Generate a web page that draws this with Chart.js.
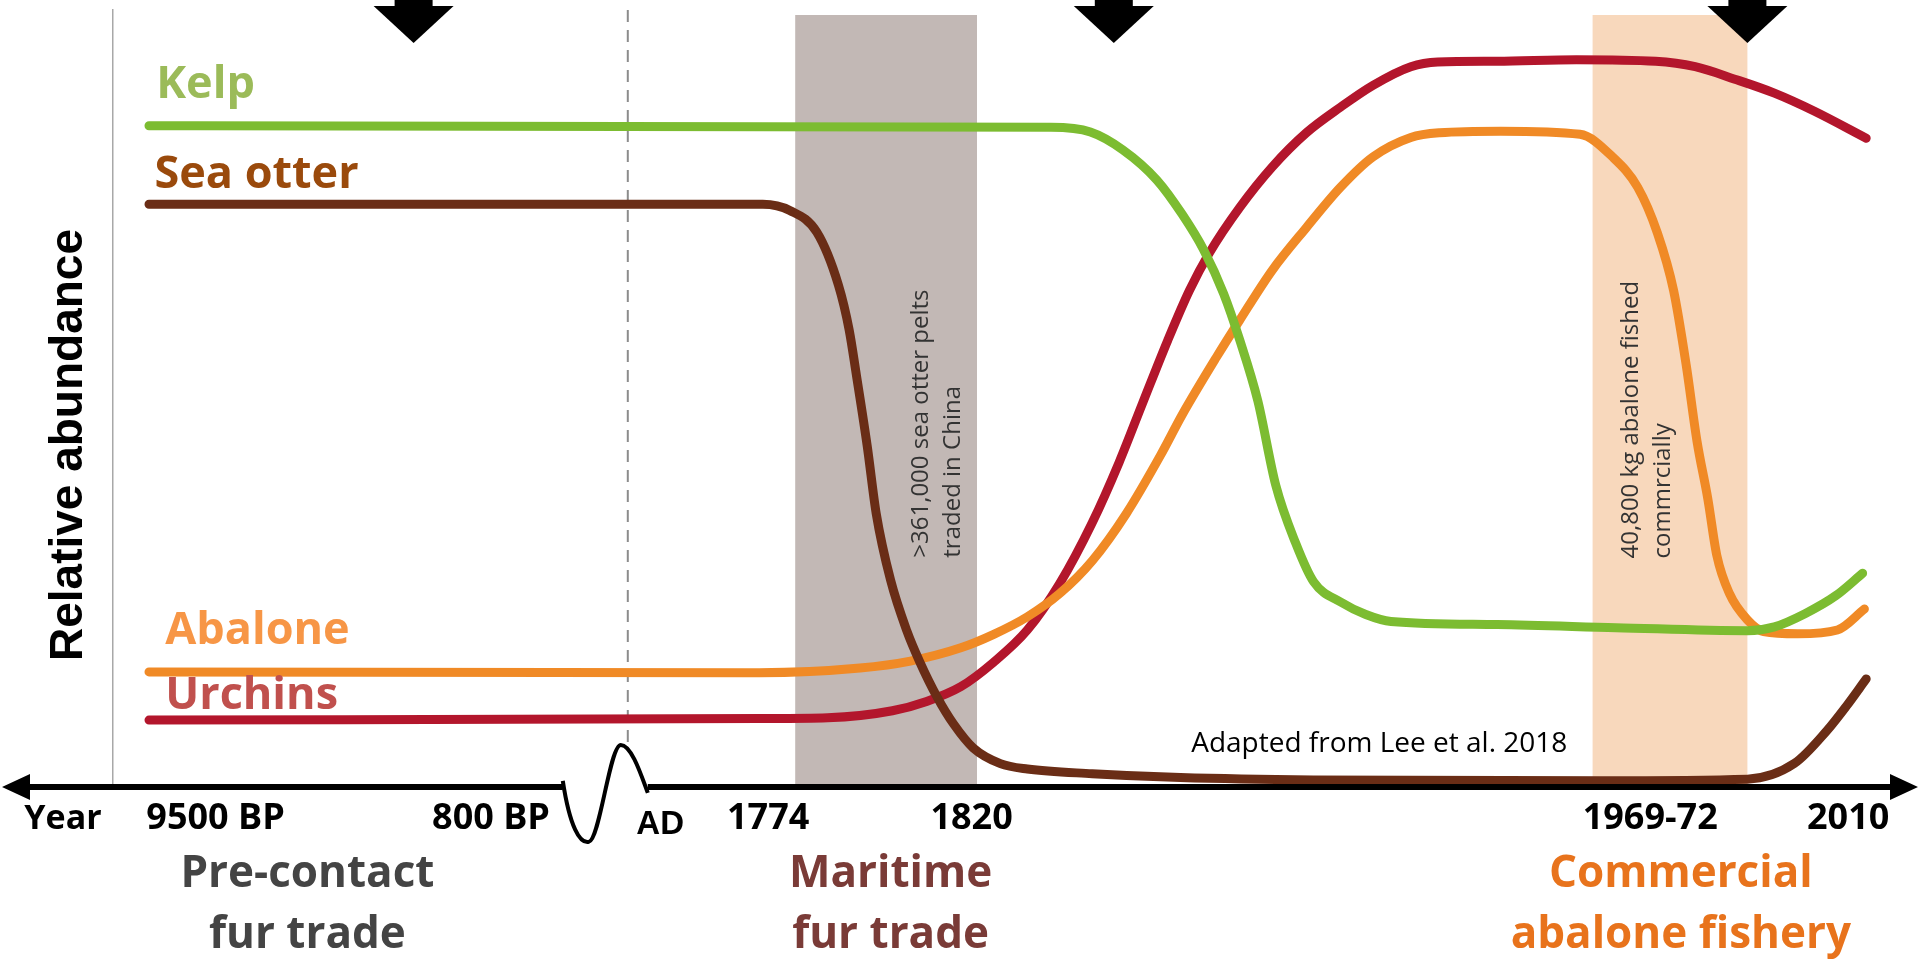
<!DOCTYPE html>
<html>
<head>
<meta charset="utf-8">
<title>Kelp forest timeline</title>
<script src="https://cdn.jsdelivr.net/npm/chart.js@4.4.1/dist/chart.umd.min.js"></script>
<style>
  html, body { margin: 0; padding: 0; background: #fff; }
</style>
</head>
<body>
<canvas id="myChart" width="1920" height="961"></canvas>
<script>
// timeline position runs 0..100 along the axis, relative abundance 0..100
var tickPos = [5.7, 21.0, 30.4, 36.4, 47.7, 85.4, 96.4];
var tickLabels = ["9500 BP", "800 BP", "AD", "1774", "1820", "1969-72", "2010"];

var kelpX = [2.0, 52.1, 54.3, 56.1, 58.0, 59.4, 60.6, 61.7, 62.6, 63.6, 64.6, 65.7, 66.7, 68.2, 69.6, 71.0, 76.9, 83.5, 90.8, 92.3, 94.0, 95.7, 97.2];
var kelpY = [85.1, 84.9, 84.3, 82.0, 78.1, 73.7, 69.1, 63.5, 57.5, 49.7, 38.8, 31.4, 26.4, 23.8, 22.2, 21.3, 20.9, 20.5, 20.1, 20.6, 22.3, 24.6, 27.5];

var otterX = [2.0, 36.1, 37.6, 39.1, 40.3, 40.9, 41.3, 41.9, 42.4, 43.2, 44.1, 44.8, 45.8, 46.7, 47.8, 49.3, 50.8, 54.4, 59.3, 66.7, 82.6, 90.8, 93.4, 95.2, 96.3, 97.4];
var otterY = [75.0, 75.0, 74.2, 71.4, 64.6, 58.8, 53.0, 43.9, 35.2, 26.6, 20.1, 16.2, 11.5, 8.1, 5.0, 3.0, 2.3, 1.7, 1.2, 0.9, 0.8, 1.0, 3.0, 7.2, 10.4, 13.9];

var abaloneX = [2.0, 35.9, 41.5, 44.3, 47.1, 48.9, 50.8, 52.6, 54.4, 56.3, 58.2, 59.4, 61.3, 62.6, 64.4, 66.3, 68.2, 70.0, 72.1, 73.7, 77.1, 81.5, 83.3, 84.7, 85.8, 86.7, 87.4, 88.0, 88.6, 89.1, 89.8, 90.8, 91.7, 93.6, 95.8, 97.3];
var abaloneY = [14.8, 14.7, 15.3, 16.2, 17.9, 19.6, 21.9, 24.9, 29.1, 35.2, 42.7, 47.9, 55.3, 60.1, 66.5, 72.0, 77.2, 81.1, 83.6, 84.2, 84.4, 84.0, 81.1, 77.2, 71.3, 63.9, 54.3, 44.5, 37.1, 29.8, 24.9, 21.5, 20.0, 19.7, 20.2, 22.9];

var urchinX = [2.0, 35.9, 39.7, 43.3, 45.2, 47.1, 48.9, 50.8, 52.6, 54.4, 55.9, 57.2, 58.6, 59.8, 60.9, 62.6, 64.4, 66.3, 68.2, 70.0, 72.1, 73.6, 76.9, 81.3, 85.7, 87.9, 90.1, 92.3, 94.5, 97.4];
var urchinY = [8.6, 8.8, 8.9, 9.8, 11.0, 12.9, 16.0, 20.2, 26.2, 34.0, 41.8, 49.4, 57.5, 63.9, 68.7, 74.6, 79.8, 84.2, 87.5, 90.3, 92.7, 93.3, 93.4, 93.6, 93.4, 92.7, 91.1, 89.3, 87.0, 83.5];

var bandStart = [37.9, 82.2];
var bandEnd = [48.0, 90.8];
var bandNotes = [[">361,000 sea otter pelts", "traded in China"], ["40,800 kg abalone fished", "commrcially"]];
var periods = [["Pre-contact", "fur trade"], ["Maritime", "fur trade"], ["Commercial", "abalone fishery"]];
var periodCenter = [10.8, 43.2, 87.1];
var arrowAt = [16.7, 55.6, 90.8];
var breakAt = 28.6;

function pts(xs, ys) {
  return xs.map(function (v, i) { return {x: v, y: ys[i]}; });
}

var bandColors = ["#c2b8b5", "#f8d8bc"];
var noteAnchor = [[45.3, 29.5], [84.7, 29.4]];
var seriesText = [
  {text: "Kelp", color: "#9bbb59", x: 2.4, y: 88.7},
  {text: "Sea otter", color: "#9a4a0c", x: 2.3, y: 77.1},
  {text: "Abalone", color: "#f79646", x: 2.9, y: 18.4},
  {text: "Urchins", color: "#c0504d", x: 2.9, y: 10.0}
];
var periodColors = ["#444444", "#7a3b37", "#e8731c"];

var timeline = {
  id: "timeline",
  beforeDatasetsDraw: function (chart) {
    var ctx = chart.ctx, a = chart.chartArea, sx = chart.scales.x, sy = chart.scales.y;
    ctx.save();
    // shaded periods
    for (var i = 0; i < bandStart.length; i++) {
      var l = sx.getPixelForValue(bandStart[i]), r = sx.getPixelForValue(bandEnd[i]);
      ctx.fillStyle = bandColors[i];
      ctx.fillRect(l, a.top + 5, r - l, a.bottom - a.top - 5);
    }
    // dashed break line
    var bp = sx.getPixelForValue(breakAt);
    ctx.strokeStyle = "#8c8c8c";
    ctx.lineWidth = 2;
    ctx.setLineDash([12, 8]);
    ctx.beginPath();
    ctx.moveTo(bp, a.top);
    ctx.lineTo(bp, a.bottom - 42);
    ctx.stroke();
    ctx.setLineDash([]);
    // rotated notes in the bands
    ctx.fillStyle = "#333";
    ctx.font = "24px 'Open Sans'";
    ctx.textAlign = "left";
    ctx.textBaseline = "alphabetic";
    for (var j = 0; j < bandNotes.length; j++) {
      ctx.save();
      ctx.translate(sx.getPixelForValue(noteAnchor[j][0]), sy.getPixelForValue(noteAnchor[j][1]));
      ctx.rotate(-Math.PI / 2);
      bandNotes[j].forEach(function (line, k) { ctx.fillText(line, 0, k * 32); });
      ctx.restore();
    }
    ctx.restore();
  },
  afterDatasetsDraw: function (chart) {
    var ctx = chart.ctx, sx = chart.scales.x, sy = chart.scales.y;
    var W = chart.width;
    var ay = sy.getPixelForValue(0);
    var bp = sx.getPixelForValue(breakAt);
    ctx.save();
    // time axis with arrow heads and break
    ctx.strokeStyle = "#000";
    ctx.fillStyle = "#000";
    ctx.lineWidth = 6;
    ctx.beginPath();
    ctx.moveTo(24, ay); ctx.lineTo(bp - 65, ay);
    ctx.moveTo(bp + 20, ay); ctx.lineTo(W - 26, ay);
    ctx.stroke();
    ctx.beginPath();
    ctx.moveTo(2, ay); ctx.lineTo(30, ay - 13); ctx.lineTo(30, ay + 13); ctx.closePath();
    ctx.moveTo(W - 2, ay); ctx.lineTo(W - 30, ay - 13); ctx.lineTo(W - 30, ay + 13); ctx.closePath();
    ctx.fill();
    ctx.lineWidth = 4;
    ctx.beginPath();
    ctx.moveTo(bp - 65, ay - 6);
    ctx.bezierCurveTo(bp - 58, ay + 40, bp - 48, ay + 57, bp - 39, ay + 55);
    ctx.bezierCurveTo(bp - 28, ay + 53, bp - 18, ay - 42, bp - 7, ay - 42);
    ctx.bezierCurveTo(bp + 4, ay - 42, bp + 14, ay - 10, bp + 20, ay + 6);
    ctx.stroke();
    // down arrows at the top
    arrowAt.forEach(function (v) {
      var cx = sx.getPixelForValue(v);
      ctx.fillRect(cx - 19, 0, 38, 8);
      ctx.beginPath();
      ctx.moveTo(cx - 40, 6); ctx.lineTo(cx + 40, 6); ctx.lineTo(cx, 43); ctx.closePath();
      ctx.fill();
    });
    // series names
    ctx.font = "bold 45px 'Open Sans'";
    ctx.textAlign = "left";
    ctx.textBaseline = "alphabetic";
    seriesText.forEach(function (s) {
      ctx.fillStyle = s.color;
      ctx.fillText(s.text, sx.getPixelForValue(s.x), sy.getPixelForValue(s.y));
    });
    // y title
    ctx.save();
    ctx.translate(82, 445);
    ctx.rotate(-Math.PI / 2);
    ctx.fillStyle = "#000";
    ctx.font = "bold 46px 'Liberation Sans'";
    ctx.textAlign = "center";
    ctx.fillText("Relative abundance", 0, 0);
    ctx.restore();
    // axis name
    ctx.fillStyle = "#000";
    ctx.font = "bold 34px 'Open Sans'";
    ctx.textAlign = "center";
    ctx.fillText("Year", 63, 829);
    // period names
    ctx.font = "bold 44px 'Open Sans'";
    periods.forEach(function (p, i) {
      ctx.fillStyle = periodColors[i];
      var cx = sx.getPixelForValue(periodCenter[i]);
      ctx.fillText(p[0], cx, 887);
      ctx.fillText(p[1], cx, 948);
    });
    // source
    ctx.fillStyle = "#000";
    ctx.font = "28px 'Open Sans'";
    ctx.textAlign = "left";
    ctx.fillText("Adapted from Lee et al. 2018", sx.getPixelForValue(59.9), 752);
    ctx.restore();
  }
};

new Chart("myChart", {
  type: "line",
  data: {
    datasets: [
      {label: "Kelp", data: pts(kelpX, kelpY), borderColor: "#7cbc31"},
      {label: "Sea otter", data: pts(otterX, otterY), borderColor: "#6a2d16"},
      {label: "Abalone", data: pts(abaloneX, abaloneY), borderColor: "#f08a26"},
      {label: "Urchins", data: pts(urchinX, urchinY), borderColor: "#b3162c"}
    ]
  },
  options: {
    responsive: false,
    animation: false,
    devicePixelRatio: 1,
    layout: {padding: {left: 113, top: 10, right: 7, bottom: 98}},
    elements: {
      point: {radius: 0},
      line: {borderWidth: 9, cubicInterpolationMode: "monotone", borderCapStyle: "round", borderJoinStyle: "round", fill: false}
    },
    plugins: {legend: {display: false}, tooltip: {enabled: false}},
    scales: {
      x: {
        type: "linear", min: 0, max: 100,
        grid: {display: false, drawTicks: false},
        border: {display: false},
        afterBuildTicks: function (s) { s.ticks = tickPos.map(function (v) { return {value: v}; }); },
        ticks: {
          autoSkip: false, maxRotation: 0, padding: 10, color: "#000",
          callback: function (v, i) { return tickLabels[i]; },
          font: function (c) {
            if (tickLabels[c.index] === "AD") return {family: "Liberation Sans", weight: "bold", size: 33, lineHeight: 1.7};
            return {family: "Open Sans", weight: "bold", size: 36, lineHeight: 1.2};
          }
        }
      },
      y: {
        min: 0, max: 100,
        grid: {display: false, drawTicks: false},
        border: {display: true, color: "#a8a8a8", width: 1.5},
        ticks: {display: false}
      }
    }
  },
  plugins: [timeline]
});
</script>
</body>
</html>
